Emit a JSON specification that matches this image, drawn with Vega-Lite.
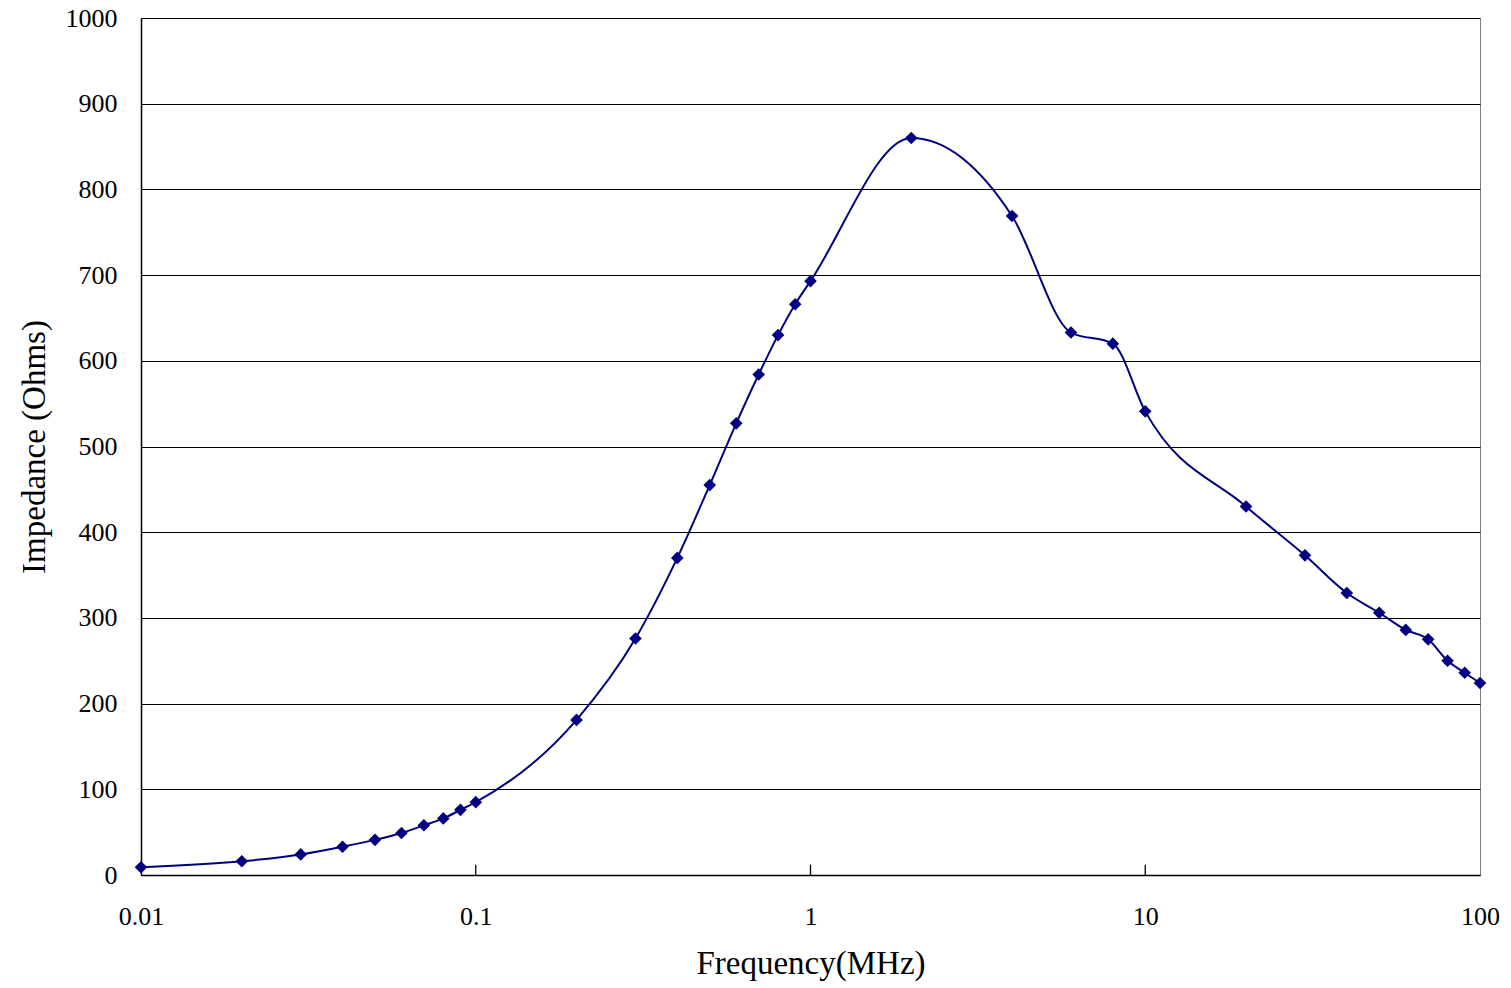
{
  "$schema": "https://vega.github.io/schema/vega-lite/v6.json",
  "width": 1339,
  "height": 857,
  "autosize": {"type": "none"},
  "padding": {"left": 141, "top": 18, "right": 31, "bottom": 113},
  "background": "white",
  "config": {
    "view": {"stroke": "#808080", "strokeWidth": 1},
    "font": "Liberation Serif"
  },
  "datasets": {
    "impedance": [
      {"freq": 0.01, "imp": 9},
      {"freq": 0.02, "imp": 16},
      {"freq": 0.03, "imp": 24},
      {"freq": 0.04, "imp": 33},
      {"freq": 0.05, "imp": 41},
      {"freq": 0.06, "imp": 49},
      {"freq": 0.07, "imp": 58},
      {"freq": 0.08, "imp": 66},
      {"freq": 0.09, "imp": 76},
      {"freq": 0.1, "imp": 85},
      {"freq": 0.2, "imp": 181},
      {"freq": 0.3, "imp": 276},
      {"freq": 0.4, "imp": 370},
      {"freq": 0.5, "imp": 455},
      {"freq": 0.6, "imp": 527},
      {"freq": 0.7, "imp": 584},
      {"freq": 0.8, "imp": 630},
      {"freq": 0.9, "imp": 666},
      {"freq": 1, "imp": 693},
      {"freq": 2, "imp": 860},
      {"freq": 4, "imp": 769},
      {"freq": 6, "imp": 633},
      {"freq": 8, "imp": 620},
      {"freq": 10, "imp": 541},
      {"freq": 20, "imp": 430},
      {"freq": 30, "imp": 373},
      {"freq": 40, "imp": 329},
      {"freq": 50, "imp": 306},
      {"freq": 60, "imp": 286},
      {"freq": 70, "imp": 275},
      {"freq": 80, "imp": 250},
      {"freq": 90, "imp": 236},
      {"freq": 100, "imp": 224}
    ],
    "decades": [
      {"freq": 0.1},
      {"freq": 1},
      {"freq": 10}
    ]
  },
  "layer": [
    {
      "data": {"name": "decades"},
      "mark": {"type": "rule", "color": "#000", "strokeWidth": 1.3},
      "encoding": {
        "x": {
          "field": "freq",
          "type": "quantitative",
          "scale": {"type": "log", "domain": [0.01, 100], "nice": false},
          "axis": {
            "title": "Frequency(MHz)",
            "values": [0.01, 0.1, 1, 10, 100],
            "format": "~g",
            "grid": false,
            "labelFlush": false,
            "domainColor": "#000",
            "domainWidth": 1.5,
            "ticks": false,
            "labelPadding": 28,
            "labelFontSize": 26,
            "labelColor": "#000",
            "labelFont": "Liberation Serif",
            "titleFont": "Liberation Serif",
            "titleFontSize": 33,
            "titleFontWeight": "normal",
            "titleColor": "#000",
            "titlePadding": 18
          }
        },
        "y": {"datum": 0, "type": "quantitative"},
        "y2": {"datum": 12}
      }
    },
    {
      "data": {"name": "impedance"},
      "mark": {"type": "line", "color": "#000080", "strokeWidth": 2, "interpolate": "monotone"},
      "encoding": {
        "x": {"field": "freq", "type": "quantitative"},
        "y": {
          "field": "imp",
          "type": "quantitative",
          "scale": {"domain": [0, 1000], "nice": false, "zero": true},
          "axis": {
            "title": "Impedance (Ohms)",
            "values": [0, 100, 200, 300, 400, 500, 600, 700, 800, 900, 1000],
            "format": "d",
            "grid": true,
            "gridColor": "#000",
            "gridWidth": 1,
            "gridOpacity": 1,
            "domainColor": "#000",
            "domainWidth": 1.5,
            "ticks": false,
            "labelPadding": 24,
            "labelFontSize": 26,
            "labelColor": "#000",
            "labelFont": "Liberation Serif",
            "titleFont": "Liberation Serif",
            "titleFontSize": 33,
            "titleFontWeight": "normal",
            "titleColor": "#000",
            "titlePadding": 14
          }
        }
      }
    },
    {
      "data": {"name": "impedance"},
      "mark": {"type": "point", "shape": "diamond", "filled": true, "color": "#000080", "opacity": 1, "size": 160},
      "encoding": {
        "x": {"field": "freq", "type": "quantitative"},
        "y": {"field": "imp", "type": "quantitative"}
      }
    }
  ]
}
